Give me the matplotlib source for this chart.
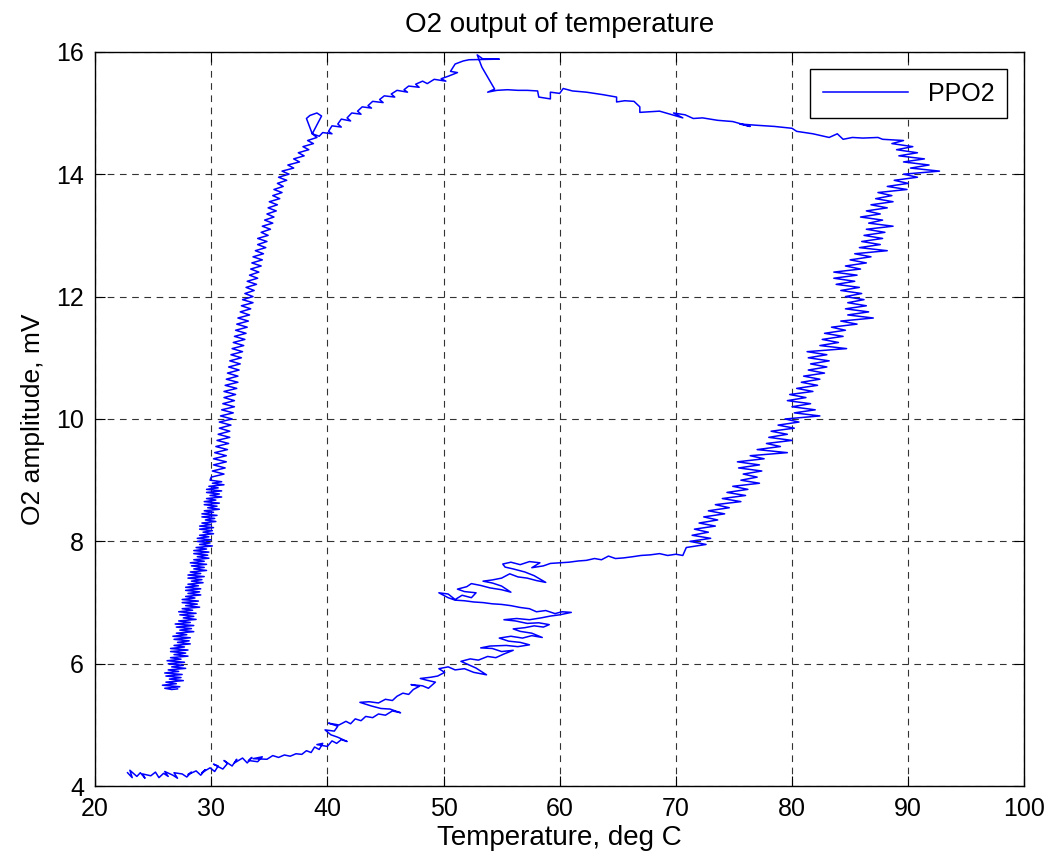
import matplotlib
matplotlib.use("Agg")
import matplotlib.pyplot as plt

# ---- data: (temperature deg C, O2 amplitude mV) ----
# bottom branch (heating, low O2)
bottom_branch = [
    (22.8, 4.22), (23.2, 4.14), (23.0, 4.26), (23.6, 4.16), (23.9, 4.22), (24.3, 4.13), (24.1, 4.20),
    (24.8, 4.17), (25.2, 4.23), (25.5, 4.14), (25.9, 4.21), (26.3, 4.16), (26.0, 4.24), (26.7, 4.18),
    (27.1, 4.13), (26.8, 4.22), (27.5, 4.20), (27.9, 4.15), (28.3, 4.23), (28.0, 4.19), (28.7, 4.25),
    (29.1, 4.18), (29.5, 4.27), (29.2, 4.22), (29.9, 4.30), (30.3, 4.24), (30.6, 4.33),
    (30.2, 4.36), (31.0, 4.28), (31.4, 4.37), (31.1, 4.42), (31.8, 4.33), (32.2, 4.44), (32.0, 4.38),
    (32.7, 4.46), (33.1, 4.38), (33.5, 4.47), (33.2, 4.42), (34.0, 4.40), (34.4, 4.48), (33.6, 4.45),
    (34.8, 4.44), (35.3, 4.50), (35.8, 4.47), (36.3, 4.51), (36.8, 4.49), (37.3, 4.53), (37.8, 4.52),
    (38.2, 4.58), (38.6, 4.55), (38.9, 4.64), (39.3, 4.60), (39.6, 4.70), (39.1, 4.68), (40.0, 4.65),
    (40.4, 4.74), (40.8, 4.70), (41.2, 4.76), (41.7, 4.73), (40.9, 4.80), (40.3, 4.84), (39.8, 4.92),
    (40.6, 4.90), (40.9, 4.98), (40.1, 5.03), (41.0, 5.00), (41.6, 5.06), (42.0, 5.02), (42.4, 5.10),
    (42.9, 5.07), (43.3, 5.14), (43.9, 5.12), (44.4, 5.18), (45.0, 5.16), (45.6, 5.23), (46.3, 5.20),
    (45.4, 5.26), (44.6, 5.27), (43.8, 5.31), (42.8, 5.37), (43.6, 5.38), (44.4, 5.36), (45.0, 5.42),
    (45.6, 5.40), (46.0, 5.47), (46.5, 5.52), (47.0, 5.50), (47.4, 5.58), (47.9, 5.63), (47.2, 5.66),
    (48.2, 5.64), (48.7, 5.60), (49.3, 5.70), (48.6, 5.73), (48.0, 5.76), (48.9, 5.78), (49.5, 5.80),
    (50.1, 5.86), (49.6, 5.92), (50.4, 5.95), (51.0, 5.90), (51.8, 5.92), (52.6, 5.86), (53.7, 5.82),
    (52.8, 5.93), (52.2, 5.98), (51.5, 6.04), (52.3, 6.08), (53.0, 6.06), (53.8, 6.12), (54.5, 6.10),
    (55.2, 6.16), (56.0, 6.22), (55.0, 6.20), (54.2, 6.25), (53.2, 6.26), (54.0, 6.29), (55.4, 6.30),
    (56.4, 6.28), (57.4, 6.31), (56.6, 6.35), (55.6, 6.37), (54.8, 6.42), (55.8, 6.45), (56.8, 6.42),
    (57.6, 6.46), (58.5, 6.43), (57.6, 6.50), (56.6, 6.53), (56.0, 6.57), (57.0, 6.59), (57.8, 6.62),
    (58.6, 6.60), (59.1, 6.64), (58.2, 6.67), (57.2, 6.66), (56.2, 6.70), (55.2, 6.72), (56.3, 6.74),
    (57.4, 6.72), (58.4, 6.75), (59.2, 6.78), (60.0, 6.80), (61.0, 6.84), (60.2, 6.85), (59.6, 6.82),
    (58.8, 6.87), (58.0, 6.85), (57.4, 6.90), (56.6, 6.92), (55.8, 6.95), (55.0, 6.97), (54.2, 6.98),
    (53.4, 7.00), (52.6, 7.01), (51.8, 7.03), (51.0, 7.04), (50.4, 7.08), (49.6, 7.16), (50.4, 7.14),
    (51.0, 7.05), (51.6, 7.12), (52.4, 7.08), (52.8, 7.16), (51.8, 7.18), (51.2, 7.22), (52.0, 7.26),
    (52.4, 7.31), (53.2, 7.28), (54.0, 7.24), (55.0, 7.21), (55.8, 7.17), (55.0, 7.27), (54.2, 7.32),
    (53.4, 7.35), (54.2, 7.37), (55.0, 7.40), (55.7, 7.47), (56.4, 7.42), (57.2, 7.40), (58.0, 7.36),
    (58.8, 7.33), (57.8, 7.44), (57.0, 7.50), (56.0, 7.55), (55.3, 7.58), (55.1, 7.63), (55.8, 7.66),
    (56.6, 7.62), (57.4, 7.67), (58.3, 7.65), (57.6, 7.57), (58.6, 7.60), (59.2, 7.64), (60.0, 7.65),
    (60.8, 7.66), (61.6, 7.68), (62.3, 7.69), (63.0, 7.72), (63.6, 7.70), (64.2, 7.76), (64.8, 7.72),
    (65.5, 7.73), (66.3, 7.75), (67.0, 7.77), (67.8, 7.78), (68.6, 7.80), (69.3, 7.77), (70.0, 7.79),
    (70.6, 7.77)]

# right branch (heating up to the maximum temperature)
right_branch = [
    (70.9, 7.90), (72.6, 7.95), (71.2, 8.00), (73.0, 8.05), (71.4, 8.10), (72.8, 8.15), (71.6, 8.20),
    (73.4, 8.25), (72.0, 8.30), (73.6, 8.35), (72.4, 8.40), (74.2, 8.45), (72.8, 8.50), (74.6, 8.55),
    (73.4, 8.60), (75.6, 8.65), (74.0, 8.70), (76.0, 8.75), (74.4, 8.80), (76.2, 8.85), (74.9, 8.90),
    (77.2, 8.95), (75.6, 9.00), (77.0, 9.05), (75.8, 9.10), (77.4, 9.15), (75.4, 9.20), (77.2, 9.25),
    (75.3, 9.30), (77.6, 9.35), (76.4, 9.40), (79.6, 9.45), (77.0, 9.50), (79.0, 9.55), (77.8, 9.60),
    (80.0, 9.65), (78.0, 9.70), (79.6, 9.75), (78.2, 9.80), (80.2, 9.85), (78.8, 9.90), (80.6, 9.95),
    (79.4, 10.00), (82.4, 10.05), (80.2, 10.10), (82.0, 10.15), (80.0, 10.20), (81.6, 10.25), (79.6, 10.30),
    (81.2, 10.35), (79.8, 10.40), (81.8, 10.45), (80.4, 10.50), (82.2, 10.55), (80.8, 10.60), (82.4, 10.65),
    (81.0, 10.70), (82.8, 10.75), (81.4, 10.80), (83.0, 10.85), (81.6, 10.90), (83.2, 10.95), (81.4, 11.00),
    (83.0, 11.05), (81.3, 11.10), (84.7, 11.15), (82.4, 11.20), (84.0, 11.25), (82.6, 11.30), (84.4, 11.35),
    (82.8, 11.40), (84.6, 11.45), (83.4, 11.50), (85.6, 11.55), (84.2, 11.60), (87.0, 11.65), (84.8, 11.70),
    (86.6, 11.75), (84.6, 11.80), (86.4, 11.85), (84.8, 11.90), (86.2, 11.95), (84.6, 12.00), (86.0, 12.05),
    (84.2, 12.10), (85.8, 12.15), (83.8, 12.20), (85.4, 12.25), (83.6, 12.30), (85.6, 12.35), (83.6, 12.40),
    (85.9, 12.45), (84.6, 12.50), (86.4, 12.55), (85.0, 12.60), (86.8, 12.65), (85.4, 12.70), (88.2, 12.75),
    (85.8, 12.80), (87.6, 12.85), (86.0, 12.90), (87.8, 12.95), (86.2, 13.00), (88.0, 13.05), (86.4, 13.10),
    (88.7, 13.15), (86.6, 13.20), (87.8, 13.25), (85.9, 13.30), (87.6, 13.35), (86.4, 13.40), (88.2, 13.45),
    (86.8, 13.50), (88.7, 13.55), (87.2, 13.60), (88.6, 13.65), (87.4, 13.70), (89.9, 13.75), (88.2, 13.80),
    (90.0, 13.85), (88.8, 13.90), (90.8, 13.95), (89.6, 14.00), (92.7, 14.05), (90.2, 14.10), (91.8, 14.15),
    (89.6, 14.20), (91.4, 14.25), (89.2, 14.30), (90.8, 14.35), (89.0, 14.40), (90.4, 14.45), (88.6, 14.50),
    (89.6, 14.55), (87.8, 14.57)]

# top branch (cooling, high O2)
top_branch = [
    (87.4, 14.60), (86.1, 14.59), (85.2, 14.60), (84.4, 14.57), (83.9, 14.66), (83.2, 14.60), (81.8, 14.66),
    (80.4, 14.70), (80.0, 14.75), (78.5, 14.78), (76.9, 14.80), (75.5, 14.82), (76.4, 14.78), (74.9, 14.86),
    (73.6, 14.88), (72.3, 14.92), (71.5, 14.91), (70.8, 14.97), (69.8, 15.00), (70.6, 14.92), (68.6, 15.03),
    (67.8, 15.02), (66.9, 15.01), (66.9, 15.10), (66.4, 15.19), (65.6, 15.20), (64.9, 15.18), (64.9, 15.26),
    (63.7, 15.30), (63.0, 15.32), (62.3, 15.34), (61.1, 15.36), (60.3, 15.40), (60.0, 15.32), (59.2, 15.34),
    (59.2, 15.23), (58.2, 15.26), (58.1, 15.36), (57.2, 15.37), (56.4, 15.37), (55.5, 15.38), (54.6, 15.37),
    (53.8, 15.34), (54.4, 15.39), (53.3, 15.75), (52.9, 15.95), (53.4, 15.88), (54.8, 15.88), (52.2, 15.87),
    (51.7, 15.85)]

# upper-left arc with the small loop near 39 deg C
arc_branch = [
    (51.0, 15.80), (50.6, 15.68), (51.2, 15.66), (50.4, 15.60), (49.8, 15.56), (50.2, 15.52), (49.2, 15.55),
    (48.6, 15.48), (48.2, 15.52), (47.6, 15.47), (47.9, 15.42), (47.0, 15.44), (46.6, 15.38), (46.9, 15.34),
    (46.0, 15.37), (45.5, 15.31), (45.8, 15.26), (44.9, 15.28), (44.5, 15.22), (44.8, 15.17), (43.9, 15.19),
    (43.5, 15.12), (43.8, 15.08), (43.0, 15.10), (42.6, 15.03), (42.9, 14.98), (42.1, 15.00), (41.7, 14.92),
    (42.0, 14.87), (41.2, 14.90), (40.9, 14.82), (41.2, 14.77), (40.4, 14.79), (40.1, 14.70), (40.4, 14.66),
    (39.6, 14.68), (39.3, 14.62), (38.7, 14.66), (38.2, 14.91), (38.5, 14.96), (39.1, 15.00), (39.5, 14.95),
    (38.7, 14.66)]

# left branch, upper half (cooling back down)
left_upper = [
    (39.1, 14.60), (38.3, 14.55), (38.8, 14.50), (37.9, 14.45), (38.4, 14.40), (37.5, 14.35), (38.0, 14.30),
    (37.1, 14.25), (37.6, 14.20), (36.6, 14.15), (37.1, 14.10), (36.1, 14.05), (36.7, 14.00),
    (35.8, 13.95), (36.5, 13.90), (35.7, 13.85), (36.2, 13.80), (35.4, 13.75), (36.1, 13.70), (35.3, 13.65),
    (35.9, 13.60), (35.0, 13.55), (35.7, 13.50), (34.9, 13.45), (35.6, 13.40), (34.8, 13.35), (35.4, 13.30),
    (34.6, 13.25), (35.3, 13.20), (34.4, 13.15), (35.1, 13.10), (34.3, 13.05), (34.9, 13.00),
    (34.0, 12.95), (34.8, 12.90), (34.0, 12.85), (34.7, 12.80), (33.8, 12.75), (34.5, 12.70), (33.6, 12.65),
    (34.4, 12.60), (33.5, 12.55), (34.3, 12.50), (33.4, 12.45), (34.1, 12.40), (33.3, 12.35), (34.0, 12.30),
    (33.1, 12.25), (33.9, 12.20), (33.0, 12.15), (33.7, 12.10), (32.9, 12.05), (33.6, 12.00),
    (32.7, 11.95), (33.6, 11.90), (32.6, 11.85), (33.4, 11.80), (32.5, 11.75), (33.3, 11.70), (32.3, 11.65),
    (33.2, 11.60), (32.2, 11.55), (33.1, 11.50), (32.1, 11.45), (33.0, 11.40), (32.0, 11.35), (32.9, 11.30),
    (31.9, 11.25), (32.8, 11.20), (31.8, 11.15), (32.7, 11.10), (31.7, 11.05), (32.6, 11.00),
    (31.6, 10.95), (32.5, 10.90), (31.5, 10.85), (32.4, 10.80), (31.4, 10.75), (32.3, 10.70), (31.3, 10.65),
    (32.3, 10.60), (31.2, 10.55), (32.2, 10.50), (31.1, 10.45), (32.1, 10.40), (31.1, 10.35), (32.0, 10.30),
    (31.0, 10.25), (32.0, 10.20), (30.9, 10.15), (31.9, 10.10), (30.8, 10.05), (31.8, 10.00),
    (30.7, 9.95), (31.7, 9.90), (30.7, 9.85), (31.6, 9.80), (30.6, 9.75), (31.6, 9.70), (30.5, 9.65),
    (31.5, 9.60), (30.4, 9.55), (31.4, 9.50), (30.3, 9.45), (31.3, 9.40), (30.2, 9.35), (31.3, 9.30),
    (30.2, 9.25), (31.2, 9.20), (30.1, 9.15), (31.1, 9.10), (30.0, 9.05)]

# left branch, lower half (densest, widest noise band)
left_lower = [
    (29.9, 9.000), (30.9, 8.975), (30.1, 8.950), (31.1, 8.925), (29.8, 8.900), (30.6, 8.875), (29.6, 8.850),
    (30.9, 8.825), (29.6, 8.800), (30.7, 8.775), (29.9, 8.750), (30.9, 8.725), (29.6, 8.700), (30.4, 8.675),
    (29.4, 8.650), (30.7, 8.625), (29.4, 8.600), (30.5, 8.575), (29.7, 8.550), (30.7, 8.525), (29.4, 8.500),
    (30.2, 8.475), (29.2, 8.450), (30.5, 8.425), (29.2, 8.400), (30.3, 8.375), (29.5, 8.350), (30.4, 8.325),
    (29.2, 8.300), (30.0, 8.275), (29.0, 8.250), (30.2, 8.225), (29.0, 8.200), (30.1, 8.175), (29.3, 8.150),
    (30.2, 8.125), (29.0, 8.100), (29.8, 8.075), (28.8, 8.050), (30.0, 8.025), (28.8, 8.000), (29.9, 7.975),
    (29.0, 7.950), (30.1, 7.925), (28.7, 7.900), (29.6, 7.875), (28.5, 7.850), (29.8, 7.825), (28.5, 7.800),
    (29.7, 7.775), (28.8, 7.750), (29.8, 7.725), (28.5, 7.700), (29.4, 7.675), (28.2, 7.650), (29.6, 7.625),
    (28.3, 7.600), (29.4, 7.575), (28.5, 7.550), (29.6, 7.525), (28.2, 7.500), (29.1, 7.475), (28.0, 7.450),
    (29.4, 7.425), (28.0, 7.400), (29.2, 7.375), (28.3, 7.350), (29.3, 7.325), (28.0, 7.300), (28.9, 7.275),
    (27.8, 7.250), (29.1, 7.225), (27.8, 7.200), (29.0, 7.175), (28.0, 7.150), (29.1, 7.125), (27.8, 7.100),
    (28.6, 7.075), (27.5, 7.050), (28.9, 7.025), (27.5, 7.000), (28.8, 6.975), (27.8, 6.950), (29.0, 6.925),
    (27.5, 6.900), (28.4, 6.875), (27.2, 6.850), (28.7, 6.825), (27.3, 6.800), (28.5, 6.775), (27.6, 6.750),
    (28.7, 6.725), (27.2, 6.700), (28.2, 6.675), (26.9, 6.650), (28.5, 6.625), (27.0, 6.600), (28.3, 6.575),
    (27.3, 6.550), (28.5, 6.525), (27.0, 6.500), (27.9, 6.475), (26.7, 6.450), (28.2, 6.425), (26.8, 6.400),
    (28.1, 6.375), (27.1, 6.350), (28.2, 6.325), (26.8, 6.300), (27.7, 6.275), (26.5, 6.250), (28.0, 6.225),
    (26.5, 6.200), (27.8, 6.175), (26.8, 6.150), (28.0, 6.125), (26.5, 6.100), (27.4, 6.075), (26.2, 6.050),
    (27.7, 6.025), (26.3, 6.000), (27.6, 5.975), (26.6, 5.950), (27.8, 5.925), (26.3, 5.900), (27.2, 5.875),
    (26.0, 5.850), (27.5, 5.825), (26.1, 5.800), (27.4, 5.775), (26.4, 5.750), (27.6, 5.725), (26.1, 5.700),
    (27.0, 5.675), (25.8, 5.650), (27.3, 5.625), (26.0, 5.600), (26.6, 5.580), (27.1, 5.590)]

title_text = "O2 output of temperature"
xlabel_text = "Temperature, deg C"
ylabel_text = "O2 amplitude, mV"
legend_label = "PPO2"
x_ticks = [20, 30, 40, 50, 60, 70, 80, 90, 100]
y_ticks = [4, 6, 8, 10, 12, 14, 16]

path = bottom_branch + right_branch + top_branch + arc_branch + left_upper + left_lower
temperature = [p[0] for p in path]
o2 = [p[1] for p in path]

plt.rcParams['font.family'] = ['Liberation Sans', 'DejaVu Sans']

fig = plt.figure(figsize=(10.56, 8.63), dpi=100)
ax = fig.add_axes([0.090, 0.089, 0.880, 0.851])

ax.plot(temperature, o2, color='#0000ff', linewidth=1.1, label=legend_label)

ax.set_xlim(20, 100)
ax.set_ylim(4, 16)
ax.set_xticks(x_ticks)
ax.set_yticks(y_ticks)
ax.grid(True, color='#333333', linestyle=(0, (6, 5)), linewidth=0.8)
ax.tick_params(direction='in', length=7, width=0.8, top=True, right=True,
               labelsize=18, pad=8, colors='black')
for s in ax.spines.values():
    s.set_linewidth(1.0)

ax.set_title(title_text, fontsize=20, pad=14)
ax.set_xlabel(xlabel_text, fontsize=20, labelpad=3)
ax.set_ylabel(ylabel_text, fontsize=19, labelpad=8)

leg = ax.legend(loc='upper right', fontsize=18, handlelength=3.4, fancybox=False,
                edgecolor='black', framealpha=1, borderaxespad=0.7, borderpad=0.5)
leg.get_frame().set_linewidth(1.0)

fig.savefig("out.png", dpi=100)
